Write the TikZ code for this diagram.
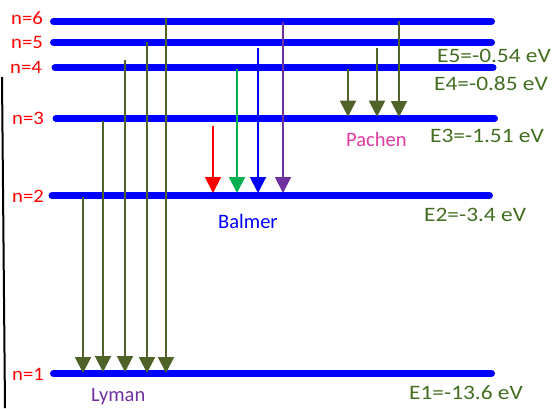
\documentclass[tikz,border=0pt]{standalone}
\usepackage{fontspec}
\setmainfont{Carlito}
\usetikzlibrary{arrows.meta}
\definecolor{olv}{RGB}{79,98,40}
\definecolor{egreen}{RGB}{66,110,32}
\definecolor{pach}{RGB}{226,58,160}
\definecolor{lym}{RGB}{112,48,160}
\definecolor{balg}{RGB}{0,176,80}
\begin{document}
\begin{tikzpicture}[x=1pt,y=-1pt,
  level/.style={line width=7pt, blue, line cap=round},
  trans/.style={line width=2pt, olv, -{Triangle[width=16pt,length=16pt]}},
  nlab/.style={red, anchor=base west, inner sep=0pt, font=\fontsize{19}{19}\selectfont},
  elab/.style={egreen, anchor=base west, inner sep=0pt, font=\fontsize{20.5}{20.5}\selectfont},
  slab/.style={anchor=base west, inner sep=0pt, font=\fontsize{20.5}{20.5}\selectfont}]
\useasboundingbox (0,0) rectangle (553,408);
% left black line
\coordinate (bl1) at (2,77);
\coordinate (bl2) at (5,408);
\draw[line width=2pt, black] (bl1) -- (bl2);
% levels
\coordinate (L6a) at (53.5,21.5); \coordinate (L6b) at (491.5,21.5);
\coordinate (L5a) at (53.5,42.3); \coordinate (L5b) at (491.5,42.3);
\coordinate (L4a) at (55,67.7);   \coordinate (L4b) at (493,67.7);
\coordinate (L3a) at (56,118.3);  \coordinate (L3b) at (494.5,118.3);
\coordinate (L2a) at (52,195.5);  \coordinate (L2b) at (489.5,195.5);
\coordinate (L1a) at (53.5,373.5);\coordinate (L1b) at (491.5,373.5);
\foreach \i in {1,...,6} {\draw[level] (L\i a) -- (L\i b);}
% n labels
\node[nlab] (n6) at (11,24) {\scalebox{1.09}[1]{n=6}};
\node[nlab] (n5) at (11,48) {\scalebox{1.09}[1]{n=5}};
\node[nlab] (n4) at (10,73) {\scalebox{1.09}[1]{n=4}};
\node[nlab] (n3) at (12,124) {\scalebox{1.09}[1]{n=3}};
\node[nlab] (n2) at (12,202) {\scalebox{1.09}[1]{n=2}};
\node[nlab] (n1) at (12,380) {\scalebox{1.09}[1]{n=1}};
% energy labels
\node[elab] (e5) at (437,62.7) {\scalebox{1.14}[1]{E5=-0.54 eV}};
\node[elab] (e4) at (434,90.7) {\scalebox{1.14}[1]{E4=-0.85 eV}};
\node[elab] (e3) at (430,142.7) {\scalebox{1.14}[1]{E3=-1.51 eV}};
\node[elab] (e2) at (424,221.7) {\scalebox{1.14}[1]{E2=-3.4 eV}};
\node[elab] (e1) at (409,399) {\scalebox{1.14}[1]{E1=-13.6 eV}};
% series labels
\node[slab, pach] (pachen) at (346,146) {Pachen};
\node[slab, blue] (balmer) at (218,228.3) {Balmer};
\node[slab, lym] (lyman) at (91,401.7) {Lyman};
% Lyman
\coordinate (ly2s) at (83,197.3);  \coordinate (ly2e) at (83,373);
\coordinate (ly3s) at (103,121);   \coordinate (ly3e) at (103,372);
\coordinate (ly4s) at (125,60);    \coordinate (ly4e) at (125,372);
\coordinate (ly5s) at (147,42);    \coordinate (ly5e) at (147,373);
\coordinate (ly6s) at (166,17.5);  \coordinate (ly6e) at (166,373);
\foreach \i in {2,...,6} {\draw[trans] (ly\i s) -- (ly\i e);}
% Balmer
\coordinate (ba3s) at (213,126); \coordinate (ba3e) at (213,193);
\coordinate (ba4s) at (237,69);  \coordinate (ba4e) at (237,193);
\coordinate (ba5s) at (258,48);  \coordinate (ba5e) at (258,193);
\coordinate (ba6s) at (283,22);  \coordinate (ba6e) at (283,193);
\draw[trans, red] (ba3s) -- (ba3e);
\draw[trans, balg] (ba4s) -- (ba4e);
\draw[trans, blue] (ba5s) -- (ba5e);
\draw[trans, lym] (ba6s) -- (ba6e);
% Pachen
\coordinate (pa4s) at (348,69);  \coordinate (pa4e) at (348,116.7);
\coordinate (pa5s) at (377,48);  \coordinate (pa5e) at (377,116.7);
\coordinate (pa6s) at (399,21);  \coordinate (pa6e) at (399,117);
\foreach \i in {4,5,6} {\draw[trans] (pa\i s) -- (pa\i e);}
\end{tikzpicture}
\end{document}
